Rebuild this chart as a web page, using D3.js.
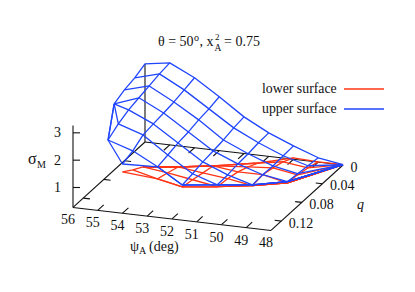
<!DOCTYPE html>
<html lang="en">
<head>
  <meta charset="UTF-8">
  <title>sigma_M surface</title>
  <style>
    body { margin: 0; background: #fff; }
    text { font-family: "Liberation Serif", serif; fill: #111; }
  </style>
</head>
<body>
  <svg></svg>
<script src="https://cdn.jsdelivr.net/npm/d3@7"></script>
<script>
const width = 415;
const height = 292;

const psiValues = [56, 55, 54, 53, 52, 51, 50, 49, 48];
const qValues = [0, 0.02, 0.04, 0.06, 0.08, 0.1, 0.12, 0.14];
const psiTicks = [56, 55, 54, 53, 52, 51, 50, 49, 48];
const qTicks = [0, 0.04, 0.08, 0.12];
const sigmaTicks = [1, 2, 3];

// rows are q, columns are psi; null = outside the computed region
const upperSigma = [
  [3.13, 3.27, 2.83, 2.24, 1.61, 1.13, 0.76, 0.43, 0.28],
  [2.96, 3.21, 2.73, 2.14, 1.55, 1.11, 0.74, 0.48, null],
  [2.86, 3.11, 2.63, 2.08, 1.45, 1.05, 0.71, 0.53, null],
  [2.69, 3.02, 2.57, 1.98, 1.39, 1.02, 0.73, 0.58, null],
  [null, 2.92, 2.51, 1.92, 1.33, 0.96, 0.70, null, null],
  [null, 2.75, 2.45, 1.82, 1.24, 0.94, null, null, null],
  [null, 2.50, 2.21, 1.73, 1.17, null, null, null, null],
  [null, null, 2.07, null, null, null, null, null, null]
];
const lowerSigma = [
  [null, null, null, null, null, null, 0.32, 0.28, 0.28],
  [null, null, null, null, null, 0.37, 0.52, 0.40, null],
  [null, null, null, null, null, 0.57, 0.64, 0.49, null],
  [null, null, null, null, 0.84, 0.73, 0.73, 0.54, null],
  [null, null, null, 1.04, 0.93, 0.82, 0.67, null, null],
  [null, null, 1.28, 1.17, 1.02, 0.87, null, null, null],
  [null, null, 1.51, 1.29, 1.10, null, null, null, null],
  [null, null, 1.78, null, null, null, null, null, null]
];

const svg = d3.select('svg')
  .attr('width', width)
  .attr('height', height)
  .style('display', 'block');

// oblique projection of the gnuplot view
const psiX = d3.scaleLinear().domain([56, 48]).range([145, 343]);
const psiY = d3.scaleLinear().domain([56, 48]).range([142, 165]);
const qX = d3.scaleLinear().domain([0, 0.14]).range([0, -72]);
const qY = d3.scaleLinear().domain([0, 0.14]).range([0, 65.45]);
const zY = d3.scaleLinear().domain([0.27, 3.27]).range([0, -82]);

const project = (psi, q, s) => [
  psiX(psi) + qX(q),
  psiY(psi) + qY(q) + zY(s)
];
const line = d3.line();
const zMin = zY.domain()[0];
const qMax = 0.14;
const blue = '#1f45ff';
const red = '#ff3517';

// points outside the region fall back on the nearest row of the same column
function nodeAt(grid, j, a) {
  let best = null;
  grid.forEach((row, k) => {
    if (row[a] !== null && (best === null || Math.abs(k - j) < Math.abs(best - j))) best = k;
  });
  if (best === null) return null;
  return project(psiValues[a], qValues[best], grid[best][a]);
}

function drawSurface(grid, color) {
  const g = svg.append('g')
    .attr('fill', 'none')
    .attr('stroke', color)
    .attr('stroke-width', 1.3)
    .attr('stroke-linejoin', 'round');
  const rows = qValues.map((q, j) => psiValues.map((p, a) => nodeAt(grid, j, a)).filter(d => d));
  const cols = psiValues.map((p, a) => qValues
    .map((q, j) => grid[j][a] === null ? null : project(p, q, grid[j][a]))
    .filter(d => d));
  g.selectAll('path.row').data(rows).enter().append('path').attr('class', 'row').attr('d', line);
  g.selectAll('path.col').data(cols.filter(d => d.length > 1)).enter().append('path').attr('class', 'col').attr('d', line);
}

// base frame and ticks
const axes = svg.append('g').attr('stroke', '#111').attr('stroke-width', 1.1).attr('fill', 'none');
const frame = [
  [[56, qMax, zMin], [48, qMax, zMin]],
  [[48, qMax, zMin], [48, 0, zMin]],
  [[56, qMax, zMin], [56, 0, zMin]],
  [[56, 0, zMin], [48, 0, zMin]],
  [[56, qMax, zMin], [56, qMax, 3.27]],
  [[56, 0, zMin], [56, 0, upperSigma[0][0]]]
];
axes.selectAll('path.frame').data(frame).enter().append('path')
  .attr('class', 'frame')
  .attr('d', d => line(d.map(p => project(p[0], p[1], p[2]))));

const tickPsi = 0.27;
const tickQ = 0.0115;
const tickLines = [];
psiTicks.slice(1, -1).forEach(p => {
  tickLines.push([project(p, qMax, zMin), project(p, qMax - tickQ, zMin)]);
  tickLines.push([project(p, 0, zMin), project(p, tickQ, zMin)]);
});
qTicks.slice(1).forEach(q => {
  tickLines.push([project(48, q, zMin), project(48 + tickPsi, q, zMin)]);
  tickLines.push([project(56, q, zMin), project(56 - tickPsi, q, zMin)]);
});
sigmaTicks.forEach(s => {
  const p = project(56, qMax, s);
  tickLines.push([p, [p[0] + 7, p[1]]]);
});
axes.selectAll('path.tick').data(tickLines).enter().append('path')
  .attr('class', 'tick')
  .attr('d', line);

drawSurface(lowerSigma, red);
drawSurface(upperSigma, blue);

// tick labels
const labels = svg.append('g').attr('font-size', 14);
labels.selectAll('text.psi').data(psiTicks).enter().append('text')
  .attr('class', 'psi')
  .attr('text-anchor', 'middle')
  .attr('x', d => project(d, qMax, zMin)[0] - 5)
  .attr('y', d => project(d, qMax, zMin)[1] + 17)
  .text(d => d);
labels.selectAll('text.q').data(qTicks).enter().append('text')
  .attr('class', 'q')
  .attr('x', d => project(48, d, zMin)[0] + 7.5)
  .attr('y', d => project(48, d, zMin)[1] + 6.5)
  .text(d => d);
labels.selectAll('text.sigma').data(sigmaTicks).enter().append('text')
  .attr('class', 'sigma')
  .attr('text-anchor', 'end')
  .attr('x', 61)
  .attr('y', d => project(56, qMax, d)[1] + 4.5)
  .text(d => d);

// axis names, title, legend
function put(x, y, str, size, style) {
  return svg.append('text')
    .attr('x', x).attr('y', y)
    .attr('font-size', size || 14)
    .attr('font-style', style || 'normal')
    .text(str);
}
put(28, 164, 'σ', 16);
put(37, 168, 'M', 10);
put(357, 209, 'q', 14, 'italic');
put(130, 251, 'ψ', 14.5);
put(139, 254, 'A', 10);
put(149, 251, '(deg)', 14);

put(158, 46, 'θ = 50', 14);
put(194, 41, 'o', 10);
put(199.5, 46, ', x', 14);
put(215, 40, '2', 9);
put(214.5, 51, 'A', 9.5);
put(224, 46, '= 0.75', 14);

const legendNames = ['lower surface', 'upper surface'];
const legendColors = [red, blue];
const legendY = d3.scalePoint().domain(legendNames).range([89, 109]);
legendNames.forEach((name, i) => {
  put(262, legendY(name) + 3.5, name, 13.8);
  svg.append('path')
    .attr('d', line([[344, legendY(name)], [384, legendY(name)]]))
    .attr('stroke', legendColors[i])
    .attr('stroke-width', 1.3);
});
</script>
</body>
</html>
